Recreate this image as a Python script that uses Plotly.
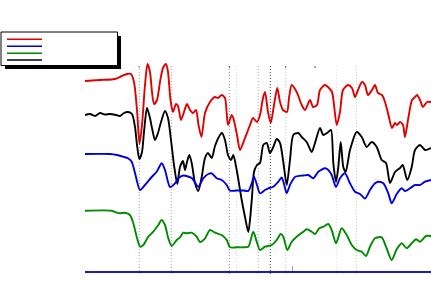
import plotly.graph_objects as go

W, H = 431, 282

# ---- data: depth (sample index) and trace amplitudes ----
red_x = [0,15,30,37,42,46,49,52,54.5,57,60,62.5,65,67,69,72,75,78,81,83,85.5,88,91,93,96,99,102,105,108,111,113.5,116.5,120,125,130,133,136.7,140,143,146.7,148.3,152,155,160,165,168,172,175,178,180,183,185.7,189,192.3,195,198,202,204,206.7,211.7,216.7,220,225,228,232,235,240,243,247,251.7,255,258,263,267,270,273,277,280,283,287,290,293,297,300,303,307,310,312,315,318,320,323,327,330,332,335,338,342,346]
red_y = [190,191,192,195,197,197,189,161,127,146,186,207,199,179,167,171,189,203,207,199,171,159,167,165,151,159,167,161,158,161,146,134,158,169,174,173,176,173,146,156,153,136,121,133,146,153,149,156,173,179,159,148,166,183,169,161,159,173,186,179,166,161,171,164,166,181,186,184,179,146,159,181,186,183,174,181,189,186,176,181,186,178,176,169,158,143,148,146,149,146,134,151,171,174,176,171,164,169,169]

black_x = [0,5,10,15,20,25,31,35,39,43,47,50,52,54.3,57,59,62,65,67,70,73,76,80,83,86,89,92.3,95,98,100,102,104.3,106.7,110,113.3,116.7,120,123,126.7,130,135,137,140,143,146,148.3,151.7,156.7,160,163.3,165,167,169,172,175,178.3,181.7,185,188.3,191.7,195,198.3,201.7,205,208.3,213.3,216.7,221.7,226.7,230,235,238.3,243.3,246,248.3,251,253.3,255.7,258.3,260.7,265,271.7,276.7,281.7,286.7,291.7,296.7,301,305,310,315,317.7,322.3,326.7,330,335,340,346]
black_y = [156,157,155,158,156.5,157,156,155,158,159,157,144,126,112,119,139,163,153,143,131,138,149,160,153,131,106,87,104,110,101,109,116,108,88,80,94,113,118,113,125,136,138,131,116,111,116,101,71,54,39,51,74,99,106,108,126,128,118,124,132,128,109,86,111,136,138,134,129,119,128,143,136,139,141,108,89,104,129,104,99,121,139,134,124,129,124,111,108,88,99,103,106,91,104,121,126,121,123]

blue_x = [0,25,32,38,43,46.7,50,55,60,66.7,71.7,76.7,80,85,90,93.3,98.3,103,107,113.3,118.3,123.3,126.7,131.7,136.7,141.7,145,151.7,158.3,163.3,166.7,169,171.7,175,180,183.3,188.3,193.3,196.7,199,201.7,205,210,218.3,223.3,228.3,233.3,240,243.3,246.7,251,255,260,265,270,275,280,285,290,294,298.3,303.3,306.7,311.7,316.7,320,325,330,335,340,346]
blue_y = [117,117,116,114.3,112.7,109.3,98,81,86,94,99.3,107.7,101,84,87.7,92.7,95.5,94.5,92.7,84.3,92.7,97,97.7,92.7,91,86,80.3,80.5,80.5,80,87.7,94.3,87,77.7,81,82.7,84.3,89.3,93.5,87,77.7,86,94,95.5,96,92.7,99.3,102.7,101,96,84,92.7,97.7,87.7,79.3,77,72.5,81,87.7,89.3,87.7,77.7,67.7,77,82.7,80,82.7,86,86,89.3,91]

green_x = [0,26.7,31.7,35,40,45,48.3,51.7,55,58.3,63.3,68.3,73.3,76.7,80,83.3,86.7,91.7,95,98.3,101.7,106.7,111.7,115,120,125,130,136.7,141.7,145,151.7,158.3,163.3,168.3,171.7,175,180,186.7,191.7,195.7,198.3,202.3,206.7,211.7,218.3,221.7,226.7,230,234.3,238.3,243.3,246.7,251,256.7,261.7,266.7,271.7,276.7,281,285,290,296.7,301,306.7,311.7,316.7,321.7,326.7,331,335,341,346]
green_y = [60.3,60.3,58.3,57.7,58.3,56,47.7,34.3,24.3,26,34.3,39.3,46,51,46,32.7,25,31,33.7,38.3,37.7,38.3,34.3,29,32.7,41,38.3,36,31,23.7,23.7,23.7,24.3,39.3,29.3,21,24.3,26,31,37,34.3,21,29.3,34.3,39.3,41.7,39.3,37,42.7,44.3,47,41,27.7,42.7,36,26,21,19.3,15,24.3,32.7,33.7,24.3,11,21.7,27.7,22.7,27.7,31.7,29.3,35,35]

# event markers (depth) and their shades
marker_depths = [54.3, 86.3, 144.3, 151.7, 173.3, 185.3, 200.7, 251.5, 271.5]
marker_colors = ["#a8a8a8", "#a8a8a8", "#8c8c8c", "#d2d2d2", "#b4b4b4", "#3c3c3c", "#cccccc", "#e0e0e0", "#cfcfcf"]
cap_depths = [54.3, 144.3, 200.7, 230.0]
cap_colors = ["#888888", "#555555", "#666666", "#555555"]
tick_depth = [207.3]

series = [
    (red_x, red_y, "#e00000"),
    (black_x, black_y, "#000000"),
    (blue_x, blue_y, "#0000e0"),
    (green_x, green_y, "#008a00"),
]

fig = go.Figure()
for xs, ys, col in series:
    fig.add_trace(go.Scatter(x=xs, y=ys, mode="lines",
                             line=dict(color=col, width=1.9, shape="spline", smoothing=0.7),
                             showlegend=False, hoverinfo="skip"))

def px(xp):
    return xp / W

def py(yp):
    return 1 - yp / H

shapes = []
for d, c in zip(marker_depths, marker_colors):
    shapes.append(dict(type="line", xref="x", yref="paper", x0=d, x1=d,
                       y0=py(274), y1=py(65), layer="below",
                       line=dict(color=c, width=1, dash="1px,2px")))
for d, c in zip(cap_depths, cap_colors):
    shapes.append(dict(type="line", xref="x", yref="paper", x0=d, x1=d,
                       y0=py(68), y1=py(66), layer="below",
                       line=dict(color=c, width=1)))

# legend box with drop shadow
shapes.append(dict(type="rect", xref="paper", yref="paper",
                   x0=px(5), x1=px(121), y0=py(69), y1=py(36),
                   fillcolor="black", line=dict(width=0)))
shapes.append(dict(type="rect", xref="paper", yref="paper",
                   x0=px(1), x1=px(117.5), y0=py(65.5), y1=py(32),
                   fillcolor="white", line=dict(color="black", width=1)))
leg_rows = [39.3, 46.3, 53.3, 60.0]
for (xs, ys, col), yr in zip([series[0], series[2], series[3], series[1]], leg_rows):
    shapes.append(dict(type="line", xref="paper", yref="paper",
                       x0=px(7), x1=px(42), y0=py(yr), y1=py(yr),
                       line=dict(color=col, width=1.6)))

fig.update_layout(
    width=W, height=H,
    margin=dict(l=0, r=0, t=0, b=0),
    paper_bgcolor="white", plot_bgcolor="white",
    xaxis=dict(domain=[85 / W, 1], range=[0, 346], showgrid=False, zeroline=False,
               showline=True, linecolor="#1c1ca8", linewidth=2,
               tickmode="array", tickvals=tick_depth, ticks="inside", ticklen=5,
               tickcolor="#9a9af0", tickwidth=1, showticklabels=False),
    yaxis=dict(domain=[11 / H, 1], range=[0, 271], visible=False),
    shapes=shapes,
)

fig.write_html("out.html")
